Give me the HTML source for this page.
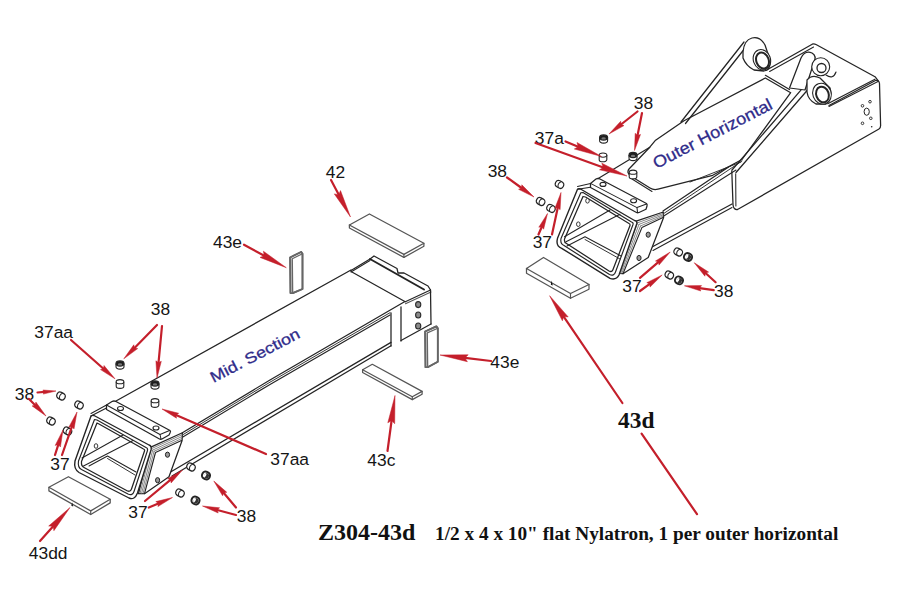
<!DOCTYPE html><html><head><meta charset="utf-8"><style>html,body{margin:0;padding:0;background:#fff;width:900px;height:600px;overflow:hidden}svg{display:block}</style></head><body><svg width="900" height="600" viewBox="0 0 900 600">
<rect width="900" height="600" fill="#fff"/>
<polyline points="116.0,401.0 351.0,270.0" fill="none" stroke="#242424" stroke-width="1.26" stroke-linejoin="round" stroke-linecap="round"/>
<polyline points="351.0,270.5 370.0,259.0 374.0,256.0 397.0,268.5 398.0,273.0 404.0,273.0 428.0,286.0 430.5,290.0" fill="none" stroke="#242424" stroke-width="1.26" stroke-linejoin="round" stroke-linecap="round"/>
<line x1="351.0" y1="272.0" x2="370.0" y2="260.5" stroke="#242424" stroke-width="1.03" stroke-linecap="round"/>
<line x1="370.0" y1="259.0" x2="424.0" y2="289.5" stroke="#242424" stroke-width="1.95" stroke-linecap="round"/>
<line x1="351.0" y1="271.5" x2="405.3" y2="301.7" stroke="#242424" stroke-width="1.26" stroke-linecap="round"/>
<line x1="405.3" y1="301.7" x2="430.5" y2="290.0" stroke="#242424" stroke-width="1.26" stroke-linecap="round"/>
<line x1="405.5" y1="303.7" x2="431.0" y2="292.0" stroke="#555" stroke-width="1.03" stroke-linecap="round"/>
<line x1="430.5" y1="290.0" x2="431.0" y2="324.0" stroke="#242424" stroke-width="1.26" stroke-linecap="round"/>
<line x1="431.0" y1="324.0" x2="401.0" y2="340.5" stroke="#242424" stroke-width="1.26" stroke-linecap="round"/>
<polyline points="182.4,432.7 270.0,380.0 404.5,301.8" fill="none" stroke="#242424" stroke-width="1.26" stroke-linejoin="round" stroke-linecap="round"/>
<polyline points="182.4,435.0 270.0,382.2 390.0,312.7" fill="none" stroke="#242424" stroke-width="0.92" stroke-linejoin="round" stroke-linecap="round"/>
<polyline points="182.4,437.2 270.0,384.4 390.0,315.0" fill="none" stroke="#242424" stroke-width="1.15" stroke-linejoin="round" stroke-linecap="round"/>
<line x1="391.0" y1="313.0" x2="391.0" y2="346.0" stroke="#242424" stroke-width="1.26" stroke-linecap="round"/>
<line x1="401.0" y1="307.0" x2="401.0" y2="341.0" stroke="#242424" stroke-width="1.26" stroke-linecap="round"/>
<ellipse cx="418.2" cy="304.6" rx="2.6" ry="3.0" fill="#8a8a8a" stroke="#2b2b2b" stroke-width="1.1"/>
<ellipse cx="418.2" cy="315" rx="2.6" ry="3.0" fill="#8a8a8a" stroke="#2b2b2b" stroke-width="1.1"/>
<ellipse cx="418.2" cy="326" rx="2.6" ry="3.0" fill="#8a8a8a" stroke="#2b2b2b" stroke-width="1.1"/>
<line x1="171.0" y1="471.7" x2="391.0" y2="342.4" stroke="#242424" stroke-width="1.26" stroke-linecap="round"/>
<line x1="172.0" y1="476.0" x2="391.0" y2="345.8" stroke="#242424" stroke-width="1.26" stroke-linecap="round"/>
<path d="M149.8,447.6 L182.4,432.7 L182.1,440.5 L169,476.7 L144.5,493.7 L138.5,493.7 Z" fill="#fff" stroke="#242424" stroke-width="1.26" stroke-linejoin="round" stroke-linecap="round"/>
<line x1="151.2" y1="448.8" x2="182.2" y2="434.6" stroke="#666" stroke-width="0.80" stroke-linecap="round"/>
<line x1="151.2" y1="448.8" x2="140.0" y2="493.7" stroke="#666" stroke-width="0.80" stroke-linecap="round"/>
<line x1="152.7" y1="450.1" x2="181.9" y2="436.6" stroke="#666" stroke-width="0.80" stroke-linecap="round"/>
<line x1="152.7" y1="450.1" x2="141.5" y2="493.7" stroke="#666" stroke-width="0.80" stroke-linecap="round"/>
<line x1="154.1" y1="451.3" x2="181.7" y2="438.6" stroke="#666" stroke-width="0.80" stroke-linecap="round"/>
<line x1="154.1" y1="451.3" x2="143.0" y2="493.7" stroke="#666" stroke-width="0.80" stroke-linecap="round"/>
<polyline points="144.5,493.7 155.5,452.5 181.5,440.5" fill="none" stroke="#242424" stroke-width="1.15" stroke-linejoin="round" stroke-linecap="round"/>
<ellipse transform="rotate(0 167.5 454.7)" cx="167.5" cy="454.7" rx="2.1" ry="2.6" fill="#9a9a9a" stroke="#242424" stroke-width="1.0"/>
<ellipse transform="rotate(0 157.6 480.2)" cx="157.6" cy="480.2" rx="2.1" ry="2.6" fill="#9a9a9a" stroke="#242424" stroke-width="1.0"/>
<path d="M91,416 L75,461 Q73.5,469 79,472.5 L129,498 Q134.5,500.5 137.5,493 L151,450 Q152,446 149,445 L94,415.5 Q92,415 91,416 Z" fill="#fff" stroke="#242424" stroke-width="1.38" stroke-linejoin="round" stroke-linecap="round"/>
<path d="M94.5,419.5 L78.5,461 Q77.5,467.5 81.5,469.5 L128,494 Q132.5,496 134,491.5 L147.5,450.5 Q148,448 146,447.5 L97,420 Z" fill="none" stroke="#242424" stroke-width="1.15" stroke-linejoin="round" stroke-linecap="round"/>
<path d="M97,423 L81.5,461.5 Q81,466 84,467.5 L127.5,491 Q130.5,492 131.5,489 L144.5,451 Q145,449.5 143.5,449 L99,424 Z" fill="#fff" stroke="#242424" stroke-width="1.26" stroke-linejoin="round" stroke-linecap="round"/>
<line x1="82.0" y1="458.0" x2="123.0" y2="435.0" stroke="#242424" stroke-width="1.03" stroke-linecap="round"/>
<line x1="83.5" y1="466.0" x2="133.0" y2="440.5" stroke="#242424" stroke-width="1.03" stroke-linecap="round"/>
<polyline points="89.0,466.0 107.5,456.0 136.0,472.0" fill="none" stroke="#242424" stroke-width="1.03" stroke-linejoin="round" stroke-linecap="round"/>
<line x1="107.5" y1="458.5" x2="135.0" y2="475.0" stroke="#242424" stroke-width="0.92" stroke-linecap="round"/>
<ellipse transform="rotate(0 96 446)" cx="96" cy="446" rx="1.8" ry="2.3" fill="#fff" stroke="#242424" stroke-width="0.9"/>
<line x1="91.0" y1="416.0" x2="106.5" y2="408.0" stroke="#242424" stroke-width="1.15" stroke-linecap="round"/>
<line x1="91.0" y1="413.5" x2="106.5" y2="405.0" stroke="#242424" stroke-width="1.03" stroke-linecap="round"/>
<path d="M106.5,405 L112,401.5 Q114,400.5 116,401.5 L170,430.5 Q171,431.5 170,433 L169,435 L162,439 Q160.5,439.5 159.5,439 L106.5,409.5 Z" fill="#fff" stroke="#242424" stroke-width="1.26" stroke-linejoin="round" stroke-linecap="round"/>
<polyline points="106.5,405.0 160.0,434.5 161.0,439.0" fill="none" stroke="#242424" stroke-width="1.03" stroke-linejoin="round" stroke-linecap="round"/>
<line x1="160.0" y1="434.5" x2="169.5" y2="430.5" stroke="#242424" stroke-width="1.03" stroke-linecap="round"/>
<ellipse transform="rotate(0 120.5 408.5)" cx="120.5" cy="408.5" rx="3" ry="2" fill="#fff" stroke="#242424" stroke-width="1.1"/>
<ellipse transform="rotate(0 156 428)" cx="156" cy="428" rx="3" ry="2" fill="#fff" stroke="#242424" stroke-width="1.1"/>
<polyline points="349.4,225.0 349.4,228.0 403.9,257.4 423.9,246.3 423.9,243.3" fill="#fff" stroke="#555" stroke-width="1.26" stroke-linejoin="round" stroke-linecap="round"/>
<polygon points="349.4,225.0 369.4,214.0 423.9,243.3 403.9,254.4" fill="#fff" stroke="#555" stroke-width="1.26" stroke-linejoin="round" stroke-linecap="round"/>
<line x1="403.9" y1="254.4" x2="403.9" y2="257.4" stroke="#555" stroke-width="1.15" stroke-linecap="round"/>
<polygon points="290.1,257.4 301.1,251.9 302.5,253.7 302.5,289.0 292.7,293.1 290.5,293.1" fill="#fff" stroke="#666" stroke-width="1.72" stroke-linejoin="round" stroke-linecap="round"/>
<polygon points="290.1,257.4 292.3,258.8 292.7,293.1 290.5,293.1" fill="#c8c8c8" stroke="#666" stroke-width="0.00" stroke-linejoin="round" stroke-linecap="round"/>
<polyline points="302.5,253.7 292.3,258.8 292.7,293.1" fill="none" stroke="#666" stroke-width="1.26" stroke-linejoin="round" stroke-linecap="round"/>
<polygon points="290.1,257.4 301.1,251.9 302.5,253.7 302.5,289.0 292.7,293.1 290.5,293.1" fill="none" stroke="#666" stroke-width="1.72" stroke-linejoin="round" stroke-linecap="round"/>
<polygon points="425.1,331.5 436.4,326.4 437.8,328.2 437.8,361.7 427.7,367.2 425.5,367.2" fill="#fff" stroke="#666" stroke-width="1.72" stroke-linejoin="round" stroke-linecap="round"/>
<polygon points="425.1,331.5 427.3,332.9 427.7,367.2 425.5,367.2" fill="#c8c8c8" stroke="#666" stroke-width="0.00" stroke-linejoin="round" stroke-linecap="round"/>
<polyline points="437.8,328.2 427.3,332.9 427.7,367.2" fill="none" stroke="#666" stroke-width="1.26" stroke-linejoin="round" stroke-linecap="round"/>
<polygon points="425.1,331.5 436.4,326.4 437.8,328.2 437.8,361.7 427.7,367.2 425.5,367.2" fill="none" stroke="#666" stroke-width="1.72" stroke-linejoin="round" stroke-linecap="round"/>
<polyline points="362.6,369.7 362.6,372.5 412.3,399.6 422.1,394.2 422.1,391.4" fill="#fff" stroke="#555" stroke-width="1.26" stroke-linejoin="round" stroke-linecap="round"/>
<polygon points="362.6,369.7 372.3,364.3 422.1,391.4 412.3,396.8" fill="#fff" stroke="#555" stroke-width="1.26" stroke-linejoin="round" stroke-linecap="round"/>
<line x1="412.3" y1="396.8" x2="412.3" y2="399.6" stroke="#555" stroke-width="1.15" stroke-linecap="round"/>
<polyline points="48.9,487.3 48.9,490.9 90.7,514.5 110.2,502.9 110.2,499.3" fill="#fff" stroke="#555" stroke-width="1.26" stroke-linejoin="round" stroke-linecap="round"/>
<polygon points="48.9,487.3 68.4,476.7 110.2,499.3 90.7,510.9" fill="#fff" stroke="#555" stroke-width="1.26" stroke-linejoin="round" stroke-linecap="round"/>
<line x1="90.7" y1="510.9" x2="90.7" y2="514.5" stroke="#555" stroke-width="1.15" stroke-linecap="round"/>
<polygon points="72.2,502.5 73.2,506.5 71.3,505.8" fill="#111"/>
<path d="M116.0,363.5 L116.0,366.5 A4.0,2.6 0 0 0 124.0,366.5 L124.0,363.5" fill="#fff" stroke="#242424" stroke-width="1.1"/>
<ellipse cx="120.0" cy="363.5" rx="4.0" ry="2.6" fill="#1e1e1e" stroke="#242424" stroke-width="1.1"/>
<ellipse cx="120.0" cy="364.4" rx="2.2" ry="1.2" fill="#777"/>
<path d="M116.2,381.7 L116.2,386.3 A3.8,2.1 0 0 0 123.8,386.3 L123.8,381.7" fill="#fff" stroke="#242424" stroke-width="1.1"/>
<ellipse cx="120.0" cy="381.7" rx="3.8" ry="2.1" fill="#fff" stroke="#242424" stroke-width="1.1"/>
<path d="M151.0,383.5 L151.0,386.5 A4.0,2.6 0 0 0 159.0,386.5 L159.0,383.5" fill="#fff" stroke="#242424" stroke-width="1.1"/>
<ellipse cx="155.0" cy="383.5" rx="4.0" ry="2.6" fill="#1e1e1e" stroke="#242424" stroke-width="1.1"/>
<ellipse cx="155.0" cy="384.4" rx="2.2" ry="1.2" fill="#777"/>
<path d="M151.2,400.7 L151.2,405.3 A3.8,2.1 0 0 0 158.8,405.3 L158.8,400.7" fill="#fff" stroke="#242424" stroke-width="1.1"/>
<ellipse cx="155.0" cy="400.7" rx="3.8" ry="2.1" fill="#fff" stroke="#242424" stroke-width="1.1"/>
<g transform="translate(61.0,396.0) rotate(28)">
<rect x="-4.3" y="-3.4" width="8.6" height="6.8" rx="3" fill="#fff" stroke="#242424" stroke-width="1.2"/>
<path d="M0.2,-3.2 Q-2.6,0 0.2,3.2" fill="none" stroke="#242424" stroke-width="1"/>
</g>
<g transform="translate(79.0,405.0) rotate(28)">
<rect x="-4.3" y="-3.4" width="8.6" height="6.8" rx="3" fill="#fff" stroke="#242424" stroke-width="1.2"/>
<path d="M0.2,-3.2 Q-2.6,0 0.2,3.2" fill="none" stroke="#242424" stroke-width="1"/>
</g>
<g transform="translate(51.0,421.0) rotate(28)">
<rect x="-4.3" y="-3.4" width="8.6" height="6.8" rx="3" fill="#fff" stroke="#242424" stroke-width="1.2"/>
<path d="M0.2,-3.2 Q-2.6,0 0.2,3.2" fill="none" stroke="#242424" stroke-width="1"/>
</g>
<g transform="translate(67.5,431.0) rotate(28)">
<rect x="-4.3" y="-3.4" width="8.6" height="6.8" rx="3" fill="#fff" stroke="#242424" stroke-width="1.2"/>
<path d="M0.2,-3.2 Q-2.6,0 0.2,3.2" fill="none" stroke="#242424" stroke-width="1"/>
</g>
<g transform="translate(191.0,467.0) rotate(28)">
<rect x="-4.3" y="-3.4" width="8.6" height="6.8" rx="3" fill="#fff" stroke="#242424" stroke-width="1.2"/>
<path d="M0.2,-3.2 Q-2.6,0 0.2,3.2" fill="none" stroke="#242424" stroke-width="1"/>
</g>
<g transform="translate(206.0,475.5) rotate(28)">
<rect x="-4" y="-3.6" width="8" height="7.2" rx="3.2" fill="#fff" stroke="#242424" stroke-width="1.9"/>
<ellipse cx="0.6" cy="0" rx="2.4" ry="2.7" fill="#333"/>
<ellipse cx="-0.9" cy="0.2" rx="1.0" ry="2.1" fill="#fff"/>
</g>
<g transform="translate(180.0,493.0) rotate(28)">
<rect x="-4.3" y="-3.4" width="8.6" height="6.8" rx="3" fill="#fff" stroke="#242424" stroke-width="1.2"/>
<path d="M0.2,-3.2 Q-2.6,0 0.2,3.2" fill="none" stroke="#242424" stroke-width="1"/>
</g>
<g transform="translate(195.5,500.5) rotate(28)">
<rect x="-4" y="-3.6" width="8" height="7.2" rx="3.2" fill="#fff" stroke="#242424" stroke-width="1.9"/>
<ellipse cx="0.6" cy="0" rx="2.4" ry="2.7" fill="#333"/>
<ellipse cx="-0.9" cy="0.2" rx="1.0" ry="2.1" fill="#fff"/>
</g>
<path d="M731.8,171 L733,204.7 Q733.5,210 737.5,209.5 L879,129 Q880.8,128 880.6,125 L879.5,83.5 Q879,80 875.5,80.5 L829,105.5" fill="#fff" stroke="#242424" stroke-width="1.26" stroke-linejoin="round" stroke-linecap="round"/>
<line x1="735.7" y1="173.7" x2="735.9" y2="206.0" stroke="#242424" stroke-width="1.03" stroke-linecap="round"/>
<line x1="663.0" y1="211.0" x2="742.0" y2="158.0" stroke="#242424" stroke-width="1.26" stroke-linecap="round"/>
<line x1="663.0" y1="214.0" x2="742.0" y2="161.0" stroke="#242424" stroke-width="0.92" stroke-linecap="round"/>
<line x1="663.0" y1="216.5" x2="736.0" y2="170.0" stroke="#242424" stroke-width="1.03" stroke-linecap="round"/>
<line x1="652.0" y1="247.0" x2="732.0" y2="204.0" stroke="#242424" stroke-width="1.26" stroke-linecap="round"/>
<line x1="653.0" y1="250.5" x2="732.0" y2="207.5" stroke="#242424" stroke-width="1.03" stroke-linecap="round"/>
<path d="M629,169 L649.8,147.2 L655.6,140.2 L684,120.7 L765.3,78 L790.7,92.7 L742,159.5 L712.7,175.3 L658,189.2 Q653.5,190.3 650,188 L631.5,176.5 Q626,173 629,169 Z" fill="#fff" stroke="#242424" stroke-width="1.26" stroke-linejoin="round" stroke-linecap="round"/>
<line x1="632.0" y1="179.0" x2="652.0" y2="191.5" stroke="#242424" stroke-width="1.03" stroke-linecap="round"/>
<line x1="598.2" y1="178.6" x2="649.8" y2="147.2" stroke="#242424" stroke-width="1.15" stroke-linecap="round"/>
<line x1="634.0" y1="173.0" x2="712.7" y2="175.3" stroke="#242424" stroke-width="0.00" stroke-linecap="round"/>
<line x1="690.0" y1="182.0" x2="741.0" y2="162.0" stroke="#242424" stroke-width="0.92" stroke-linecap="round"/>
<path d="M766.7,70 L812.2,44.2 Q814,43.5 816,44.5 L875,76.7 L878.3,80.8" fill="none" stroke="#242424" stroke-width="1.26" stroke-linejoin="round" stroke-linecap="round"/>
<line x1="769.6" y1="71.5" x2="813.6" y2="47.0" stroke="#242424" stroke-width="1.03" stroke-linecap="round"/>
<line x1="765.4" y1="75.3" x2="789.5" y2="89.5" stroke="#242424" stroke-width="1.26" stroke-linecap="round"/>
<line x1="827.7" y1="103.7" x2="875.0" y2="79.2" stroke="#242424" stroke-width="1.26" stroke-linecap="round"/>
<line x1="829.0" y1="106.5" x2="878.0" y2="81.5" stroke="#242424" stroke-width="1.03" stroke-linecap="round"/>
<ellipse transform="rotate(0 866.7 111.7)" cx="866.7" cy="111.7" rx="2.6" ry="3.6" fill="#fff" stroke="#242424" stroke-width="1.0"/>
<circle cx="862.5" cy="105.8" r="1.3" fill="#fff" stroke="#242424" stroke-width="0.9"/>
<circle cx="870" cy="101.7" r="1.3" fill="#fff" stroke="#242424" stroke-width="0.9"/>
<circle cx="862.5" cy="123.3" r="1.3" fill="#fff" stroke="#242424" stroke-width="0.9"/>
<circle cx="870.8" cy="118.3" r="1.3" fill="#fff" stroke="#242424" stroke-width="0.9"/>
<circle cx="871.7" cy="126.7" r="0.8" fill="#2b2b2b"/>
<line x1="681.0" y1="122.0" x2="744.0" y2="42.0" stroke="#242424" stroke-width="1.26" stroke-linecap="round"/>
<line x1="685.5" y1="123.5" x2="747.5" y2="45.0" stroke="#242424" stroke-width="1.26" stroke-linecap="round"/>
<line x1="732.0" y1="170.0" x2="806.7" y2="83.3" stroke="#242424" stroke-width="1.26" stroke-linecap="round"/>
<line x1="736.0" y1="172.5" x2="811.0" y2="86.0" stroke="#242424" stroke-width="1.26" stroke-linecap="round"/>
<path d="M789.5,88 L801,58 Q805,50 812,53 Q817,56 814,62 L805,90 Z" fill="#fff" stroke="#242424" stroke-width="1.26" stroke-linejoin="round" stroke-linecap="round"/>
<circle cx="820.7" cy="66.8" r="9" fill="#fff" stroke="#242424" stroke-width="1.1"/>
<circle cx="821.5" cy="68" r="4.5" fill="#fff" stroke="#242424" stroke-width="1.3"/>
<path d="M826,75 Q833,80 836,72" fill="none" stroke="#242424" stroke-width="1.15" stroke-linejoin="round" stroke-linecap="round"/>
<path d="M807,80 Q812,74 820,78 L830,88 Q833,98 826,104 L816,104 Q808,100 807,92 Z" fill="#fff" stroke="#242424" stroke-width="1.26" stroke-linejoin="round" stroke-linecap="round"/>
<ellipse transform="rotate(-20 822 93.7)" cx="822" cy="93.7" rx="9.2" ry="10.6" fill="#fff" stroke="#242424" stroke-width="1.1"/>
<ellipse transform="rotate(-20 822.5 94.5)" cx="822.5" cy="94.5" rx="6.2" ry="8" fill="#fff" stroke="#242424" stroke-width="2.0"/>
<path d="M743,52 Q744,40 752,38 Q760,36 765,45 L770,60 Q771,70 764,71 L754,70 Q746,66 743,58 Z" fill="#fff" stroke="#242424" stroke-width="1.26" stroke-linejoin="round" stroke-linecap="round"/>
<ellipse transform="rotate(-20 761.9 59.7)" cx="761.9" cy="59.7" rx="8.5" ry="10.4" fill="#fff" stroke="#242424" stroke-width="1.1"/>
<ellipse transform="rotate(-20 762.5 60.5)" cx="762.5" cy="60.5" rx="6.2" ry="8.2" fill="#fff" stroke="#242424" stroke-width="2.0"/>
<path d="M636.2,221.2 L663.3,212 L663.6,217.5 L648.2,257.5 L623,273.7 L618.3,273.4 Z" fill="#fff" stroke="#242424" stroke-width="1.26" stroke-linejoin="round" stroke-linecap="round"/>
<line x1="637.6" y1="222.8" x2="663.2" y2="213.4" stroke="#666" stroke-width="0.80" stroke-linecap="round"/>
<line x1="637.6" y1="222.8" x2="619.5" y2="273.4" stroke="#666" stroke-width="0.80" stroke-linecap="round"/>
<line x1="639.0" y1="224.4" x2="663.1" y2="214.8" stroke="#666" stroke-width="0.80" stroke-linecap="round"/>
<line x1="639.0" y1="224.4" x2="620.6" y2="273.4" stroke="#666" stroke-width="0.80" stroke-linecap="round"/>
<line x1="640.5" y1="226.0" x2="663.1" y2="216.1" stroke="#666" stroke-width="0.80" stroke-linecap="round"/>
<line x1="640.5" y1="226.0" x2="621.8" y2="273.4" stroke="#666" stroke-width="0.80" stroke-linecap="round"/>
<polyline points="623.0,273.7 641.9,227.6 663.0,217.5" fill="none" stroke="#242424" stroke-width="1.15" stroke-linejoin="round" stroke-linecap="round"/>
<ellipse transform="rotate(0 648.2 234.7)" cx="648.2" cy="234.7" rx="2.1" ry="2.6" fill="#9a9a9a" stroke="#242424" stroke-width="1.0"/>
<ellipse transform="rotate(0 639 258)" cx="639" cy="258" rx="2.1" ry="2.6" fill="#9a9a9a" stroke="#242424" stroke-width="1.0"/>
<path d="M577.5,189.2 L557.5,238.3 Q555.5,246 561.7,248.3 L610,278.3 Q616,280.5 619,275 L636.7,224 Q637.5,221 634.5,220.5 L580.5,189 Q578.5,188.5 577.5,189.2 Z" fill="#fff" stroke="#242424" stroke-width="1.38" stroke-linejoin="round" stroke-linecap="round"/>
<path d="M580.8,192.8 L561,238.5 Q560,244 564,245.5 L609.5,274.5 Q614,276.5 615.5,272 L633,224.5 Q633.5,222.5 631.5,222 L583,192.5 Z" fill="none" stroke="#242424" stroke-width="1.15" stroke-linejoin="round" stroke-linecap="round"/>
<path d="M583,196.5 L564.5,239 Q564,242.5 566.5,243.5 L609,271 Q612,272.5 613,269.5 L630,225.5 Q630.3,224 629,223.5 L585.5,197 Z" fill="#fff" stroke="#242424" stroke-width="1.26" stroke-linejoin="round" stroke-linecap="round"/>
<line x1="564.5" y1="236.7" x2="610.0" y2="210.0" stroke="#242424" stroke-width="1.03" stroke-linecap="round"/>
<line x1="566.0" y1="241.7" x2="620.0" y2="214.2" stroke="#242424" stroke-width="1.03" stroke-linecap="round"/>
<polyline points="567.0,246.0 585.0,236.7 621.0,256.0" fill="none" stroke="#242424" stroke-width="1.03" stroke-linejoin="round" stroke-linecap="round"/>
<line x1="585.0" y1="239.5" x2="620.0" y2="259.0" stroke="#242424" stroke-width="0.92" stroke-linecap="round"/>
<ellipse transform="rotate(0 587.5 200.8)" cx="587.5" cy="200.8" rx="1.8" ry="2.3" fill="#fff" stroke="#242424" stroke-width="0.9"/>
<ellipse transform="rotate(0 578.3 224.2)" cx="578.3" cy="224.2" rx="1.8" ry="2.3" fill="#fff" stroke="#242424" stroke-width="0.9"/>
<line x1="577.5" y1="189.2" x2="590.5" y2="187.2" stroke="#242424" stroke-width="1.15" stroke-linecap="round"/>
<line x1="577.5" y1="186.5" x2="590.5" y2="183.4" stroke="#242424" stroke-width="1.03" stroke-linecap="round"/>
<path d="M590.5,183.4 L596,179 Q598,178 600,179 L646.5,203.5 Q647.5,204.5 647,206 L646,209.3 L639,212.5 Q637.5,213 636.5,212.5 L590.5,187.5 Z" fill="#fff" stroke="#242424" stroke-width="1.26" stroke-linejoin="round" stroke-linecap="round"/>
<polyline points="590.5,183.4 637.0,207.6 637.5,212.3" fill="none" stroke="#242424" stroke-width="1.03" stroke-linejoin="round" stroke-linecap="round"/>
<line x1="637.0" y1="207.6" x2="646.5" y2="204.0" stroke="#242424" stroke-width="1.03" stroke-linecap="round"/>
<ellipse transform="rotate(0 603 184.4)" cx="603" cy="184.4" rx="3" ry="2" fill="#fff" stroke="#242424" stroke-width="1.1"/>
<ellipse transform="rotate(0 633.6 200.7)" cx="633.6" cy="200.7" rx="3" ry="2" fill="#fff" stroke="#242424" stroke-width="1.1"/>
<polyline points="526.5,268.5 526.5,273.3 570.5,298.3 589.0,289.3 589.0,284.5" fill="#fff" stroke="#555" stroke-width="1.26" stroke-linejoin="round" stroke-linecap="round"/>
<polygon points="526.5,268.5 543.5,257.5 589.0,284.5 570.5,293.5" fill="#fff" stroke="#555" stroke-width="1.26" stroke-linejoin="round" stroke-linecap="round"/>
<line x1="570.5" y1="293.5" x2="570.5" y2="298.3" stroke="#555" stroke-width="1.15" stroke-linecap="round"/>
<polygon points="551.5,280.5 552.8,285.5 550.8,284.8" fill="#111"/>
<path d="M599.6,137.5 L599.6,140.5 A4.0,2.6 0 0 0 607.6,140.5 L607.6,137.5" fill="#fff" stroke="#242424" stroke-width="1.1"/>
<ellipse cx="603.6" cy="137.5" rx="4.0" ry="2.6" fill="#1e1e1e" stroke="#242424" stroke-width="1.1"/>
<ellipse cx="603.6" cy="138.4" rx="2.2" ry="1.2" fill="#777"/>
<path d="M599.2,155.1 L599.2,159.7 A3.8,2.1 0 0 0 606.8,159.7 L606.8,155.1" fill="#fff" stroke="#242424" stroke-width="1.1"/>
<ellipse cx="603.0" cy="155.1" rx="3.8" ry="2.1" fill="#fff" stroke="#242424" stroke-width="1.1"/>
<path d="M629.0,155.0 L629.0,158.0 A4.0,2.6 0 0 0 637.0,158.0 L637.0,155.0" fill="#fff" stroke="#242424" stroke-width="1.1"/>
<ellipse cx="633.0" cy="155.0" rx="4.0" ry="2.6" fill="#1e1e1e" stroke="#242424" stroke-width="1.1"/>
<ellipse cx="633.0" cy="155.9" rx="2.2" ry="1.2" fill="#777"/>
<path d="M629.2,172.2 L629.2,176.8 A3.8,2.1 0 0 0 636.8,176.8 L636.8,172.2" fill="#fff" stroke="#242424" stroke-width="1.1"/>
<ellipse cx="633.0" cy="172.2" rx="3.8" ry="2.1" fill="#fff" stroke="#242424" stroke-width="1.1"/>
<g transform="translate(540.6,201.5) rotate(28)">
<rect x="-4.3" y="-3.4" width="8.6" height="6.8" rx="3" fill="#fff" stroke="#242424" stroke-width="1.2"/>
<path d="M0.2,-3.2 Q-2.6,0 0.2,3.2" fill="none" stroke="#242424" stroke-width="1"/>
</g>
<g transform="translate(551.0,208.4) rotate(28)">
<rect x="-4.3" y="-3.4" width="8.6" height="6.8" rx="3" fill="#fff" stroke="#242424" stroke-width="1.2"/>
<path d="M0.2,-3.2 Q-2.6,0 0.2,3.2" fill="none" stroke="#242424" stroke-width="1"/>
</g>
<g transform="translate(559.5,184.4) rotate(28)">
<rect x="-4.3" y="-3.4" width="8.6" height="6.8" rx="3" fill="#fff" stroke="#242424" stroke-width="1.2"/>
<path d="M0.2,-3.2 Q-2.6,0 0.2,3.2" fill="none" stroke="#242424" stroke-width="1"/>
</g>
<g transform="translate(678.2,252.0) rotate(28)">
<rect x="-4.3" y="-3.4" width="8.6" height="6.8" rx="3" fill="#fff" stroke="#242424" stroke-width="1.2"/>
<path d="M0.2,-3.2 Q-2.6,0 0.2,3.2" fill="none" stroke="#242424" stroke-width="1"/>
</g>
<g transform="translate(688.0,257.0) rotate(28)">
<rect x="-4" y="-3.6" width="8" height="7.2" rx="3.2" fill="#fff" stroke="#242424" stroke-width="1.9"/>
<ellipse cx="0.6" cy="0" rx="2.4" ry="2.7" fill="#333"/>
<ellipse cx="-0.9" cy="0.2" rx="1.0" ry="2.1" fill="#fff"/>
</g>
<g transform="translate(669.3,275.0) rotate(28)">
<rect x="-4.3" y="-3.4" width="8.6" height="6.8" rx="3" fill="#fff" stroke="#242424" stroke-width="1.2"/>
<path d="M0.2,-3.2 Q-2.6,0 0.2,3.2" fill="none" stroke="#242424" stroke-width="1"/>
</g>
<g transform="translate(679.0,280.4) rotate(28)">
<rect x="-4" y="-3.6" width="8" height="7.2" rx="3.2" fill="#fff" stroke="#242424" stroke-width="1.9"/>
<ellipse cx="0.6" cy="0" rx="2.4" ry="2.7" fill="#333"/>
<ellipse cx="-0.9" cy="0.2" rx="1.0" ry="2.1" fill="#fff"/>
</g>
<text transform="translate(213.5,383) rotate(-27.6)" font-family="Liberation Sans" font-size="15.3" fill="#2f2b8a" stroke="#2f2b8a" stroke-width="0.3" textLength="99" lengthAdjust="spacingAndGlyphs">Mid. Section</text>
<text transform="translate(656.5,169) rotate(-27.4)" font-family="Liberation Sans" font-size="16.5" fill="#2f2b8a" stroke="#2f2b8a" stroke-width="0.3" textLength="132" lengthAdjust="spacingAndGlyphs">Outer Horizontal</text>
<text x="325.8" y="178.2" font-family="Liberation Sans" font-size="17.4" fill="#151515">42</text>
<text x="213.0" y="247.7" font-family="Liberation Sans" font-size="17.4" fill="#151515">43e</text>
<text x="34.3" y="337.7" font-family="Liberation Sans" font-size="17.4" fill="#151515">37aa</text>
<text x="150.8" y="315.2" font-family="Liberation Sans" font-size="17.4" fill="#151515">38</text>
<text x="14.8" y="400.2" font-family="Liberation Sans" font-size="17.4" fill="#151515">38</text>
<text x="50.3" y="469.7" font-family="Liberation Sans" font-size="17.4" fill="#151515">37</text>
<text x="28.8" y="558.7" font-family="Liberation Sans" font-size="17.4" fill="#151515">43dd</text>
<text x="128.3" y="518.2" font-family="Liberation Sans" font-size="17.4" fill="#151515">37</text>
<text x="236.8" y="522.2" font-family="Liberation Sans" font-size="17.4" fill="#151515">38</text>
<text x="270.3" y="464.7" font-family="Liberation Sans" font-size="17.4" fill="#151515">37aa</text>
<text x="367.3" y="466.2" font-family="Liberation Sans" font-size="17.4" fill="#151515">43c</text>
<text x="490.3" y="367.7" font-family="Liberation Sans" font-size="17.4" fill="#151515">43e</text>
<text x="534.8" y="143.7" font-family="Liberation Sans" font-size="17.4" fill="#151515">37a</text>
<text x="487.7" y="176.7" font-family="Liberation Sans" font-size="17.4" fill="#151515">38</text>
<text x="633.8" y="109.2" font-family="Liberation Sans" font-size="17.4" fill="#151515">38</text>
<text x="532.7" y="248.1" font-family="Liberation Sans" font-size="17.4" fill="#151515">37</text>
<text x="622.3" y="292.3" font-family="Liberation Sans" font-size="17.4" fill="#151515">37</text>
<text x="714.0" y="296.7" font-family="Liberation Sans" font-size="17.4" fill="#151515">38</text>
<text x="318" y="540" font-family="Liberation Serif" font-weight="bold" font-size="24" fill="#111">Z304-43d</text>
<text x="435" y="540" font-family="Liberation Serif" font-weight="bold" font-size="19.3" fill="#111">1/2 x 4 x 10" flat Nylatron, 1 per outer horizontal</text>
<text x="618" y="427.5" font-family="Liberation Serif" font-weight="bold" font-size="23.4" fill="#111">43d</text>
<line x1="244.0" y1="244.7" x2="264.2" y2="255.7" stroke="#c41f2b" stroke-width="2.2" stroke-linecap="round"/>
<polygon points="286.3,267.7 260.0,257.4 264.2,255.7 263.4,251.2" fill="#c41f2b" stroke="#c41f2b" stroke-width="0.5" stroke-linejoin="round"/>
<line x1="331.0" y1="180.0" x2="338.8" y2="194.7" stroke="#c41f2b" stroke-width="2.2" stroke-linecap="round"/>
<polygon points="350.5,217.0 334.3,193.9 338.8,194.7 340.5,190.6" fill="#c41f2b" stroke="#c41f2b" stroke-width="0.5" stroke-linejoin="round"/>
<line x1="71.0" y1="340.0" x2="103.5" y2="368.7" stroke="#c41f2b" stroke-width="2.2" stroke-linecap="round"/>
<polygon points="115.0,378.8 100.5,369.6 103.5,368.7 104.0,365.5" fill="#c41f2b" stroke="#c41f2b" stroke-width="0.5" stroke-linejoin="round"/>
<line x1="157.0" y1="325.0" x2="134.5" y2="347.9" stroke="#c41f2b" stroke-width="2.2" stroke-linecap="round"/>
<polygon points="123.8,358.8 133.8,344.8 134.5,347.9 137.7,348.6" fill="#c41f2b" stroke="#c41f2b" stroke-width="0.5" stroke-linejoin="round"/>
<line x1="162.0" y1="326.0" x2="158.5" y2="362.8" stroke="#c41f2b" stroke-width="2.2" stroke-linecap="round"/>
<polygon points="157.0,378.0 155.9,360.8 158.5,362.8 161.3,361.3" fill="#c41f2b" stroke="#c41f2b" stroke-width="0.5" stroke-linejoin="round"/>
<line x1="37.5" y1="392.5" x2="44.3" y2="391.9" stroke="#c41f2b" stroke-width="2.2" stroke-linecap="round"/>
<polygon points="56.0,391.0 43.2,394.1 44.3,391.9 42.9,390.0" fill="#c41f2b" stroke="#c41f2b" stroke-width="0.5" stroke-linejoin="round"/>
<line x1="28.8" y1="398.8" x2="35.2" y2="405.2" stroke="#c41f2b" stroke-width="2.2" stroke-linecap="round"/>
<polygon points="46.0,416.0 32.1,405.9 35.2,405.2 35.9,402.1" fill="#c41f2b" stroke="#c41f2b" stroke-width="0.5" stroke-linejoin="round"/>
<line x1="55.0" y1="455.0" x2="58.3" y2="444.6" stroke="#c41f2b" stroke-width="2.2" stroke-linecap="round"/>
<polygon points="63.0,430.0 60.4,447.0 58.3,444.6 55.2,445.4" fill="#c41f2b" stroke="#c41f2b" stroke-width="0.5" stroke-linejoin="round"/>
<line x1="62.0" y1="455.0" x2="72.0" y2="426.4" stroke="#c41f2b" stroke-width="2.2" stroke-linecap="round"/>
<polygon points="77.0,412.0 74.0,428.9 72.0,426.4 68.8,427.2" fill="#c41f2b" stroke="#c41f2b" stroke-width="0.5" stroke-linejoin="round"/>
<line x1="40.0" y1="541.0" x2="53.2" y2="526.3" stroke="#c41f2b" stroke-width="2.2" stroke-linecap="round"/>
<polygon points="70.0,507.5 53.9,530.7 53.2,526.3 48.7,526.0" fill="#c41f2b" stroke="#c41f2b" stroke-width="0.5" stroke-linejoin="round"/>
<line x1="266.0" y1="454.0" x2="176.0" y2="415.1" stroke="#c41f2b" stroke-width="2.2" stroke-linecap="round"/>
<polygon points="162.0,409.0 178.7,413.3 176.0,415.1 176.5,418.2" fill="#c41f2b" stroke="#c41f2b" stroke-width="0.5" stroke-linejoin="round"/>
<line x1="387.5" y1="451.0" x2="391.6" y2="420.5" stroke="#c41f2b" stroke-width="2.2" stroke-linecap="round"/>
<polygon points="395.0,395.5 394.7,423.7 391.6,420.5 387.8,422.8" fill="#c41f2b" stroke="#c41f2b" stroke-width="0.5" stroke-linejoin="round"/>
<line x1="491.0" y1="361.0" x2="465.0" y2="357.9" stroke="#c41f2b" stroke-width="2.2" stroke-linecap="round"/>
<polygon points="440.0,355.0 468.2,354.8 465.0,357.9 467.4,361.7" fill="#c41f2b" stroke="#c41f2b" stroke-width="0.5" stroke-linejoin="round"/>
<line x1="145.0" y1="501.0" x2="170.7" y2="479.7" stroke="#c41f2b" stroke-width="2.2" stroke-linecap="round"/>
<polygon points="182.5,470.0 171.1,482.9 170.7,479.7 167.7,478.7" fill="#c41f2b" stroke="#c41f2b" stroke-width="0.5" stroke-linejoin="round"/>
<line x1="148.8" y1="507.5" x2="158.4" y2="503.4" stroke="#c41f2b" stroke-width="2.2" stroke-linecap="round"/>
<polygon points="172.5,497.5 157.9,506.6 158.4,503.4 155.8,501.6" fill="#c41f2b" stroke="#c41f2b" stroke-width="0.5" stroke-linejoin="round"/>
<line x1="236.0" y1="507.5" x2="223.6" y2="492.7" stroke="#c41f2b" stroke-width="2.2" stroke-linecap="round"/>
<polygon points="213.8,481.0 226.8,492.3 223.6,492.7 222.6,495.8" fill="#c41f2b" stroke="#c41f2b" stroke-width="0.5" stroke-linejoin="round"/>
<line x1="236.0" y1="515.0" x2="217.3" y2="510.0" stroke="#c41f2b" stroke-width="2.2" stroke-linecap="round"/>
<polygon points="202.5,506.0 219.6,507.8 217.3,510.0 218.2,513.0" fill="#c41f2b" stroke="#c41f2b" stroke-width="0.5" stroke-linejoin="round"/>
<line x1="565.5" y1="141.5" x2="578.2" y2="146.8" stroke="#c41f2b" stroke-width="2.2" stroke-linecap="round"/>
<polygon points="601.5,156.5 574.3,149.0 578.2,146.8 577.0,142.5" fill="#c41f2b" stroke="#c41f2b" stroke-width="0.5" stroke-linejoin="round"/>
<line x1="535.5" y1="143.0" x2="603.3" y2="167.5" stroke="#c41f2b" stroke-width="2.2" stroke-linecap="round"/>
<polygon points="627.0,176.0 599.5,169.8 603.3,167.5 601.8,163.2" fill="#c41f2b" stroke="#c41f2b" stroke-width="0.5" stroke-linejoin="round"/>
<line x1="637.5" y1="111.5" x2="621.0" y2="124.5" stroke="#c41f2b" stroke-width="2.2" stroke-linecap="round"/>
<polygon points="609.0,134.0 620.7,121.3 621.0,124.5 624.0,125.6" fill="#c41f2b" stroke="#c41f2b" stroke-width="0.5" stroke-linejoin="round"/>
<line x1="642.0" y1="113.0" x2="637.5" y2="135.5" stroke="#c41f2b" stroke-width="2.2" stroke-linecap="round"/>
<polygon points="634.5,150.5 635.2,133.3 637.5,135.5 640.5,134.4" fill="#c41f2b" stroke="#c41f2b" stroke-width="0.5" stroke-linejoin="round"/>
<line x1="507.0" y1="177.5" x2="521.6" y2="188.0" stroke="#c41f2b" stroke-width="2.2" stroke-linecap="round"/>
<polygon points="534.0,197.0 518.6,189.3 521.6,188.0 521.8,184.8" fill="#c41f2b" stroke="#c41f2b" stroke-width="0.5" stroke-linejoin="round"/>
<line x1="538.5" y1="234.5" x2="541.8" y2="226.7" stroke="#c41f2b" stroke-width="2.2" stroke-linecap="round"/>
<polygon points="547.5,213.5 543.6,229.2 541.8,226.7 538.8,227.2" fill="#c41f2b" stroke="#c41f2b" stroke-width="0.5" stroke-linejoin="round"/>
<line x1="552.0" y1="234.5" x2="557.8" y2="207.5" stroke="#c41f2b" stroke-width="2.2" stroke-linecap="round"/>
<polygon points="561.0,192.5 560.1,209.7 557.8,207.5 554.8,208.6" fill="#c41f2b" stroke="#c41f2b" stroke-width="0.5" stroke-linejoin="round"/>
<line x1="640.0" y1="277.8" x2="658.6" y2="261.9" stroke="#c41f2b" stroke-width="2.2" stroke-linecap="round"/>
<polygon points="670.2,252.0 659.0,265.1 658.6,261.9 655.5,261.0" fill="#c41f2b" stroke="#c41f2b" stroke-width="0.5" stroke-linejoin="round"/>
<line x1="640.0" y1="291.0" x2="649.8" y2="283.9" stroke="#c41f2b" stroke-width="2.2" stroke-linecap="round"/>
<polygon points="662.2,275.0 650.0,287.1 649.8,283.9 646.8,282.7" fill="#c41f2b" stroke="#c41f2b" stroke-width="0.5" stroke-linejoin="round"/>
<line x1="715.6" y1="282.2" x2="705.5" y2="273.0" stroke="#c41f2b" stroke-width="2.2" stroke-linecap="round"/>
<polygon points="694.2,262.7 708.6,272.1 705.5,273.0 704.9,276.2" fill="#c41f2b" stroke="#c41f2b" stroke-width="0.5" stroke-linejoin="round"/>
<line x1="713.8" y1="290.2" x2="699.5" y2="288.1" stroke="#c41f2b" stroke-width="2.2" stroke-linecap="round"/>
<polygon points="684.4,285.8 701.6,285.6 699.5,288.1 700.8,291.0" fill="#c41f2b" stroke="#c41f2b" stroke-width="0.5" stroke-linejoin="round"/>
<line x1="622.4" y1="403.0" x2="563.7" y2="316.6" stroke="#c41f2b" stroke-width="2.2" stroke-linecap="round"/>
<polygon points="549.6,295.7 568.2,316.9 563.7,316.6 562.4,320.8" fill="#c41f2b" stroke="#c41f2b" stroke-width="0.5" stroke-linejoin="round"/>
<line x1="641.6" y1="433.7" x2="697" y2="514.2" stroke="#c41f2b" stroke-width="2.2" stroke-linecap="round"/>
</svg></body></html>
